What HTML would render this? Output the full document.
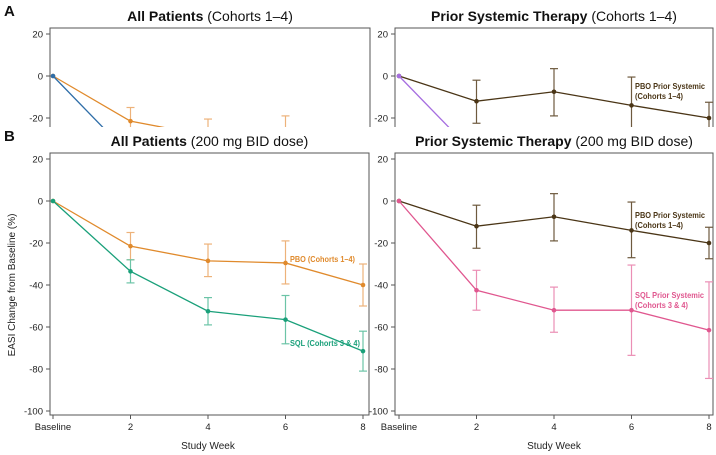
<!DOCTYPE html>
<html><head><meta charset="utf-8"><style>
body{margin:0;background:#fff;width:716px;height:455px;overflow:hidden}
svg{display:block;font-family:"Liberation Sans",Arial,sans-serif}
</style></head><body>
<svg id="c" width="716" height="455" viewBox="0 0 716 455"></svg>
<script>
const weeks=["Baseline","2","4","6","8"];
const yTicks=[20,0,-20,-40,-60,-80,-100];
const pboAll=[0,-21.5,-28.5,-29.5,-40];
const pboAllHi=[null,-15,-20.5,-19,-30];
const pboAllLo=[null,-28,-36,-39.5,-50];
const sqlAll=[0,-33.5,-52.5,-56.5,-71.5];
const sqlAllHi=[null,-28,-46,-45,-62];
const sqlAllLo=[null,-39,-59,-68,-81];
const pboPrior=[0,-12,-7.5,-14,-20];
const pboPriorHi=[null,-2,3.5,-0.5,-12.5];
const pboPriorLo=[null,-22.5,-19,-27,-27.5];
const sqlPrior=[0,-42.5,-52,-52,-61.5];
const sqlPriorHi=[null,-33,-41,-30.5,-38.5];
const sqlPriorLo=[null,-52,-62.5,-73.5,-84.5];
const allCohortsA=[0,-38,-55,-60,-68];
const priorCohortsA=[0,-38,-50,-55,-60];

const NS="http://www.w3.org/2000/svg";
const svg=document.getElementById('c');
function el(t,a,p){const e=document.createElementNS(NS,t);for(const k in a)e.setAttribute(k,a[k]);(p||svg).appendChild(e);return e;}
function txt(s,a,p){const e=el('text',a,p);e.textContent=s;return e;}

function panel(o){
  const g=el('g',{});
  
  
  if(o.clip){const cp=el('clipPath',{id:o.name+'-clip'},g);el('rect',{x:0,y:0,width:716,height:o.clip},cp);g.setAttribute('clip-path','url(#'+o.name+'-clip)');}
  const x=i=>o.x0+i*o.dx;
  const y=v=>o.y0+(20-v)*2.1;
  const box=el('rect',{x:o.bl,y:o.bt,width:o.br-o.bl,height:o.bb-o.bt,fill:'none',stroke:'#555','stroke-width':1},g);
  
  yTicks.forEach(v=>{
    el('line',{x1:o.bl-4,x2:o.bl,y1:y(v),y2:y(v),stroke:'#555'},g);
    const t=txt(String(v),{x:o.bl-7,y:y(v)+3.5,'font-size':9.5,'text-anchor':'end',fill:'#222'},g);
    
  });
  weeks.forEach((w,i)=>{
    el('line',{x1:x(i),x2:x(i),y1:o.bb,y2:o.bb+4,stroke:'#555'},g);
    const t=txt(w,{x:x(i),y:o.bb+15,'font-size':9.5,'text-anchor':'middle',fill:'#222'},g);
    
  });
  const xt=txt('Study Week',{x:(x(0)+x(4))/2,y:o.bb+34,'font-size':10,'text-anchor':'middle',fill:'#222'},g);
  
  const tt=txt('',{x:(o.bl+o.br)/2,y:o.bt-7,'font-size':14,'text-anchor':'middle',fill:'#111'},g);
  
  const b=el('tspan',{'font-weight':'bold'},tt);b.textContent=o.title[0];
  const r=el('tspan',{},tt);r.textContent=' '+o.title[1];
  o.series.forEach(s=>{
    const sg=el('g',{},g);
    
    if(s.hi)s.hi.forEach((h,i)=>{if(h==null)return;
      el('line',{x1:x(i),x2:x(i),y1:y(h),y2:y(s.lo[i]),stroke:s.ec,'stroke-width':1.2},sg);
      el('line',{x1:x(i)-4,x2:x(i)+4,y1:y(h),y2:y(h),stroke:s.ec,'stroke-width':1.2},sg);
      el('line',{x1:x(i)-4,x2:x(i)+4,y1:y(s.lo[i]),y2:y(s.lo[i]),stroke:s.ec,'stroke-width':1.2},sg);
    });
    el('polyline',{points:s.v.map((v,i)=>x(i)+','+y(v)).join(' '),fill:'none',stroke:s.c,'stroke-width':1.3},sg);
    s.v.forEach((v,i)=>el('circle',{cx:x(i),cy:y(v),r:2.3,fill:s.c},sg));
    if(s.label){s.label.forEach((ln,k)=>{
      const lt=txt(ln,{x:s.lx,y:s.ly+k*10,'font-size':8.5,'font-weight':'bold',fill:s.c,textLength:s.lw[k],lengthAdjust:'spacingAndGlyphs'},g);
      
    });}
  });
}
const orange='#e08a2c',green='#1aa07a',brown='#4a3516',pink='#e0578f';
// Panel A
panel({name:'panel-a-all',clip:127,x0:53,dx:77.5,y0:34,bl:50,br:370,bt:28,bb:300,title:['All Patients','(Cohorts 1–4)'],
 series:[{name:'series-a-pbo',v:pboAll,hi:pboAllHi,lo:pboAllLo,c:orange,ec:'#edb27a'},{name:'series-a-active',v:allCohortsA,c:'#2f6ea8'}]});
panel({name:'panel-a-prior',clip:127,x0:399,dx:77.5,y0:34,bl:395,br:713,bt:28,bb:300,title:['Prior Systemic Therapy','(Cohorts 1–4)'],
 series:[{name:'series-a-pbo-prior',v:pboPrior,hi:pboPriorHi,lo:pboPriorLo,c:brown,ec:'#6e5a3e',label:['PBO Prior Systemic','(Cohorts 1–4)'],lw:[70,48],lx:635,ly:89},{name:'series-a-active-prior',v:priorCohortsA,c:'#a66ee0'}]});
el('rect',{x:0,y:127,width:716,height:328,fill:'#fff'});
// Panel B
panel({name:'panel-b-all',x0:53,dx:77.5,y0:159,bl:50,br:369,bt:153,bb:415,title:['All Patients','(200 mg BID dose)'],
 series:[{name:'series-pbo-all',v:pboAll,hi:pboAllHi,lo:pboAllLo,c:orange,ec:'#edb27a',label:['PBO (Cohorts 1–4)'],lw:[65],lx:290,ly:262},
 {name:'series-sql-all',v:sqlAll,hi:sqlAllHi,lo:sqlAllLo,c:green,ec:'#6cc4a7',label:['SQL (Cohorts 3 & 4)'],lw:[70],lx:290,ly:346}]});
panel({name:'panel-b-prior',x0:399,dx:77.5,y0:159,bl:395,br:713,bt:153,bb:415,title:['Prior Systemic Therapy','(200 mg BID dose)'],
 series:[{name:'series-pbo-prior',v:pboPrior,hi:pboPriorHi,lo:pboPriorLo,c:brown,ec:'#6e5a3e',label:['PBO Prior Systemic','(Cohorts 1–4)'],lw:[70,48],lx:635,ly:218},
 {name:'series-sql-prior',v:sqlPrior,hi:sqlPriorHi,lo:sqlPriorLo,c:pink,ec:'#eb8fb5',label:['SQL Prior Systemic','(Cohorts 3 & 4)'],lw:[69,53],lx:635,ly:298}]});
const A=txt('A',{x:4,y:16,'font-size':15,'font-weight':'bold',fill:'#111'});
const B=txt('B',{x:4,y:141,'font-size':15,'font-weight':'bold',fill:'#111'});
const yl=txt('EASI Change from Baseline (%)',{x:0,y:0,'font-size':10,'text-anchor':'middle',fill:'#222',transform:'translate(15,285) rotate(-90)'});

const cp2=el('clipPath',{id:'yclipA'});el('rect',{x:0,y:0,width:30,height:127},cp2);
const yl2=txt('EASI Change from Baseline (%)',{x:0,y:0,'font-size':10,'text-anchor':'middle',fill:'#222',transform:'translate(15,160) rotate(-90)','clip-path':'url(#yclipA)'});

</script>
</body></html>
